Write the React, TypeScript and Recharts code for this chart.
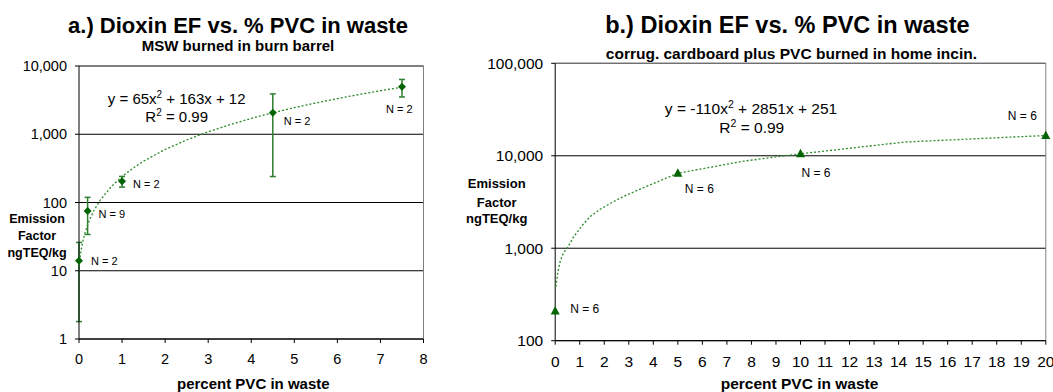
import React from 'react';
import { ScatterChart, Scatter, XAxis, YAxis, CartesianGrid, ErrorBar, ReferenceLine } from 'recharts';

const FONT = '"Liberation Sans", Arial, sans-serif';

// ---- Chart a data ----
const aX = [0, 0.2, 1, 4.5, 7.5];
const aY = [14, 75, 204, 2070, 4950];
const aLow = [1.8, 34, 168, 240, 3520];
const aHigh = [26, 119, 241, 3900, 6350];
const aN = ['N = 2', 'N = 9', 'N = 2', 'N = 2', 'N = 2'];
const aTrendX = [0, 0.05, 0.1, 0.15, 0.25, 0.35, 0.5, 0.75, 1, 1.25, 1.5, 2, 2.5, 3, 3.5, 4, 4.5, 5, 5.5, 6, 6.5, 7, 7.5];
const aTrendY = [12, 20.3, 29, 37.9, 56.8, 77, 109.8, 170.8, 240, 317.3, 402.8, 598, 825.8, 1086, 1378.8, 1704, 2061.8, 2452, 2874.8, 3330, 3817.8, 4338, 4890.8];
const aXTicks = [0, 1, 2, 3, 4, 5, 6, 7, 8];
const aYTicks = [1, 10, 100, 1000, 10000];

// ---- Chart b data ----
const bX = [0, 5, 10, 20];
const bY = [210, 6470, 10500, 16550];
const bN = ['N = 6', 'N = 6', 'N = 6', 'N = 6'];
const bTrendX = [0.03, 0.1, 0.2, 0.33, 0.53, 0.74, 1.08, 1.42, 1.83, 2.37, 2.91, 3.86, 5, 7.66, 10, 14.24, 19.18, 20];
const bTrendY = [384, 536, 715, 881, 1040, 1313, 1740, 2193, 2636, 3187, 3764, 4833, 6470, 8730, 10500, 14070, 16190, 16550];
const bXTicks = [0, 1, 2, 3, 4, 5, 6, 7, 8, 9, 10, 11, 12, 13, 14, 15, 16, 17, 18, 19, 20];
const bYTicks = [100, 1000, 10000, 100000];

// label offsets (style, not data)
const aLabelOffsets = [[12, 0], [11, 3], [11, 3], [11, 8], [-16, 22]];
const bLabelOffsets = [[15, -2], [7, 16], [1, 19], [-38, -20]];

const MARK = '#006400';
const ERR = '#2f7f2f';
const TREND = '#2a8a2a';

const aData = aX.map((x, i) => ({ x, y: aY[i], err: [aY[i] - aLow[i], aHigh[i] - aY[i]], n: aN[i], i }));
const aTrend = aTrendX.map((x, i) => ({ x, y: aTrendY[i] }));
const bData = bX.map((x, i) => ({ x, y: bY[i], n: bN[i], i }));
const bTrend = bTrendX.map((x, i) => ({ x, y: bTrendY[i] }));

const fmt = (v: number) => v.toLocaleString('en-US');

const Diamond = (props: any) => {
  const { cx, cy, payload } = props;
  const [dx, dy] = aLabelOffsets[payload.i];
  const s = 4;
  return (
    <g>
      <polygon points={`${cx},${cy - s} ${cx + s},${cy} ${cx},${cy + s} ${cx - s},${cy}`} fill={MARK} />
      <text x={cx + dx} y={cy + dy + 3.9} fontSize={11} fontFamily={FONT} fill="#000">{payload.n}</text>
    </g>
  );
};

const Triangle = (props: any) => {
  const { cx, cy, payload } = props;
  const [dx, dy] = bLabelOffsets[payload.i];
  return (
    <g>
      <polygon points={`${cx},${cy - 5} ${cx + 4.5},${cy + 3.5} ${cx - 4.5},${cy + 3.5}`} fill={MARK} />
      <text x={cx + dx} y={cy + dy + 4.2} fontSize={12} fontFamily={FONT} fill="#000">{payload.n}</text>
    </g>
  );
};

const Empty = () => <g />;

function ChartA() {
  return (
    <ScatterChart width={440} height={392} margin={{ top: 66, right: 16.5, bottom: 23, left: 9 }}>
      <CartesianGrid vertical={false} stroke="#000" strokeWidth={1} />
      <XAxis type="number" dataKey="x" domain={[0, 8]} ticks={aXTicks} interval={0} height={30}
        tickSize={4} tickMargin={11} axisLine={{ stroke: '#000' }} tickLine={{ stroke: '#000' }}
        tick={{ fill: '#000', fontSize: 14.5, fontFamily: FONT }} />
      <YAxis type="number" dataKey="y" scale="log" domain={[1, 10000]} ticks={aYTicks} interval={0} width={70}
        tickSize={4} tickMargin={8} axisLine={{ stroke: '#000' }} tickLine={{ stroke: '#000' }}
        tickFormatter={fmt} tick={{ fill: '#000', fontSize: 14.5, fontFamily: FONT }} />
      <ReferenceLine y={10000} stroke="#808080" />
      <ReferenceLine x={8} stroke="#808080" />
      <Scatter data={aTrend} line={{ stroke: TREND, strokeDasharray: '2 2', strokeWidth: 1.3 }} lineType="joint"
        shape={Empty} isAnimationActive={false} />
      <Scatter data={aData} shape={Diamond} isAnimationActive={false}>
        <ErrorBar dataKey="err" direction="y" width={3} stroke={ERR} strokeWidth={1.5} />
      </Scatter>
    </ScatterChart>
  );
}

function ChartB() {
  return (
    <ScatterChart width={613} height={392} margin={{ top: 63.3, right: 7.2, bottom: 21.3, left: 45.2 }}>
      <CartesianGrid vertical={false} stroke="#000" strokeWidth={1} />
      <XAxis type="number" dataKey="x" domain={[0, 20]} ticks={bXTicks} interval={0} height={30}
        tickSize={4} tickMargin={11} axisLine={{ stroke: '#000' }} tickLine={{ stroke: '#000' }}
        tick={{ fill: '#000', fontSize: 15.5, fontFamily: FONT }} />
      <YAxis type="number" dataKey="y" scale="log" domain={[100, 100000]} ticks={bYTicks} interval={0} width={70}
        tickSize={4} tickMargin={8} axisLine={{ stroke: '#000' }} tickLine={{ stroke: '#000' }}
        tickFormatter={fmt} tick={{ fill: '#000', fontSize: 15.5, fontFamily: FONT }} />
      <ReferenceLine y={100000} stroke="#808080" />
      <ReferenceLine x={20} stroke="#808080" />
      <Scatter data={bTrend} line={{ stroke: TREND, strokeDasharray: '2 2', strokeWidth: 1.3 }} lineType="joint"
        shape={Empty} isAnimationActive={false} />
      <Scatter data={bData} shape={Triangle} isAnimationActive={false} />
    </ScatterChart>
  );
}

export default function App() {
  const bold = { fontFamily: FONT, fontWeight: 700 as const, fill: '#000' };
  const norm = { fontFamily: FONT, fill: '#000' };
  return (
    <div style={{ position: 'absolute', left: 0, top: 0, width: 1053, height: 392, background: '#fff', overflow: 'hidden' }}>
      <div style={{ position: 'absolute', left: 0, top: 0 }}><ChartA /></div>
      <div style={{ position: 'absolute', left: 440, top: 0 }}><ChartB /></div>
      <svg width={1053} height={392} style={{ position: 'absolute', left: 0, top: 0, pointerEvents: 'none' }}>
        {/* chart a texts */}
        <text x={238} y={32.8} textAnchor="middle" fontSize={22} {...bold}>a.) Dioxin EF vs. % PVC in waste</text>
        <text x={238} y={51} textAnchor="middle" fontSize={15} {...bold}>MSW burned in burn barrel</text>
        <text x={176.7} y={103.5} textAnchor="middle" fontSize={15} {...norm}>
          y = 65x<tspan dy={-6} fontSize={10}>2</tspan><tspan dy={6}> + 163x + 12</tspan>
        </text>
        <text x={176.7} y={122} textAnchor="middle" fontSize={15} {...norm}>
          R<tspan dy={-6} fontSize={10}>2</tspan><tspan dy={6}> = 0.99</tspan>
        </text>
        <text x={37} y={222.7} textAnchor="middle" fontSize={12.5} {...bold}>Emission</text>
        <text x={37} y={240} textAnchor="middle" fontSize={12.5} {...bold}>Factor</text>
        <text x={37} y={256.7} textAnchor="middle" fontSize={12.5} {...bold}>ngTEQ/kg</text>
        <text x={253.3} y={389} textAnchor="middle" fontSize={15} {...bold}>percent PVC in waste</text>
        {/* chart b texts */}
        <text x={787.4} y={32.5} textAnchor="middle" fontSize={23.5} {...bold}>b.) Dioxin EF vs. % PVC in waste</text>
        <text x={791.4} y={58.6} textAnchor="middle" fontSize={15.5} {...bold}>corrug. cardboard plus PVC burned in home incin.</text>
        <text x={751} y={113.5} textAnchor="middle" fontSize={15.5} {...norm}>
          y = -110x<tspan dy={-6} fontSize={10.5}>2</tspan><tspan dy={6}> + 2851x + 251</tspan>
        </text>
        <text x={751.8} y={132.5} textAnchor="middle" fontSize={15.5} {...norm}>
          R<tspan dy={-6} fontSize={10.5}>2</tspan><tspan dy={6}> = 0.99</tspan>
        </text>
        <text x={496.7} y={188.3} textAnchor="middle" fontSize={13} {...bold}>Emission</text>
        <text x={496.7} y={206.7} textAnchor="middle" fontSize={13} {...bold}>Factor</text>
        <text x={496.7} y={223.3} textAnchor="middle" fontSize={13} {...bold}>ngTEQ/kg</text>
        <text x={799.5} y={388.5} textAnchor="middle" fontSize={15.5} {...bold}>percent PVC in waste</text>
      </svg>
    </div>
  );
}
